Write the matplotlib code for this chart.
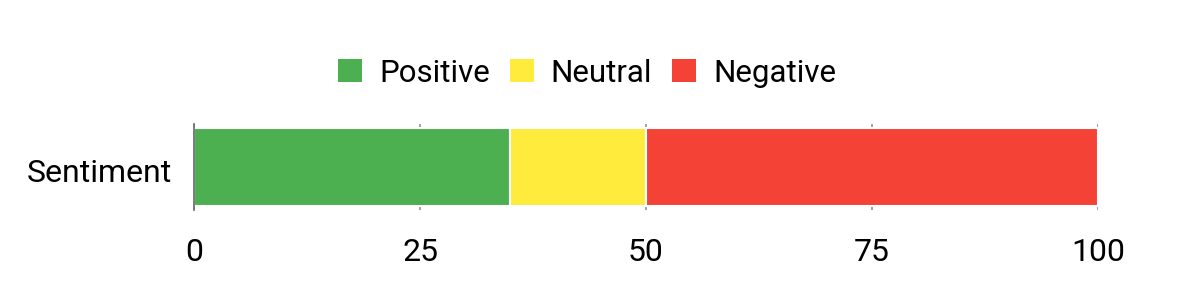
import matplotlib.pyplot as plt
from matplotlib.patches import Rectangle
import matplotlib.transforms as mtransforms

plt.rcParams['font.family'] = ['Roboto', 'DejaVu Sans']

category = 'Sentiment'
series_names = ['Positive', 'Neutral', 'Negative']
series_values = [35, 15, 50]
series_colors = ['#4CAF50', '#FFEB3B', '#F44336']
x_ticks = [0, 25, 50, 75, 100]

fig = plt.figure(figsize=(12, 3), dpi=100)
ax = fig.add_axes([194 / 1200, 1 - 210 / 300, (1098 - 194) / 1200, 86 / 300])

left = 0
for name, val, color in zip(series_names, series_values, series_colors):
    ax.barh([category], [val], left=left, height=0.9, color=color,
            edgecolor='white', linewidth=1.5, label=name, zorder=3)
    left += val

ax.set_xlim(0, 100)
ax.set_ylim(-0.5, 0.5)
ax.set_xticks(x_ticks)
ax.set_xticklabels([str(t) for t in x_ticks])
ax.tick_params(axis='x', length=0, pad=20, labelsize=23)
ax.tick_params(axis='y', length=0, pad=16, labelsize=23)
ax.grid(axis='x', color='#888888', linewidth=1.1, zorder=0)
for side in ['top', 'right', 'bottom']:
    ax.spines[side].set_visible(False)
ax.spines['left'].set_color('#666666')
ax.spines['left'].set_linewidth(1.2)
ax.spines['left'].set_zorder(4)

# nudge the category label down a little, as in the reference
offset = mtransforms.ScaledTranslation(0, -4 / 100, fig.dpi_scale_trans)
for lbl in ax.get_yticklabels():
    lbl.set_transform(lbl.get_transform() + offset)

handles = [Rectangle((0, 0), 1, 1, facecolor=c, edgecolor='none') for c in series_colors]
fig.legend(handles, series_names, loc='center', bbox_to_anchor=(587 / 1200, 1 - 73 / 300),
           ncol=3, frameon=False, fontsize=22.5, handlelength=0.77, handleheight=0.77,
           handletextpad=0.54, columnspacing=0.64, borderpad=0)

fig.savefig('out.png', dpi=100)
